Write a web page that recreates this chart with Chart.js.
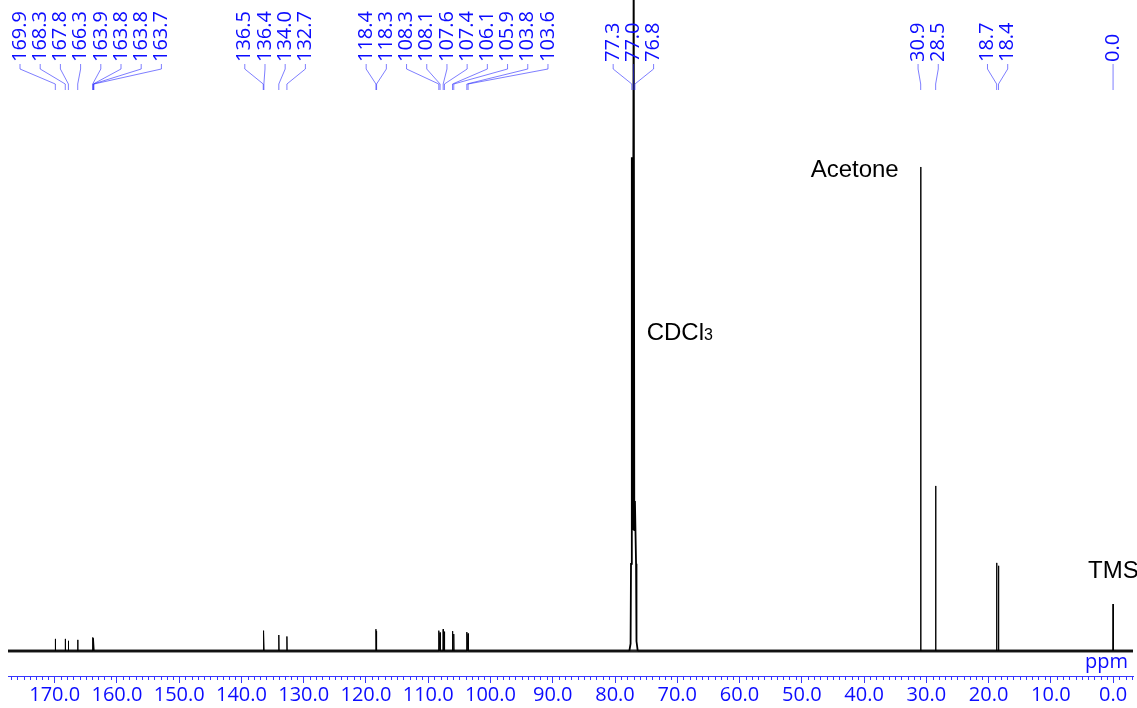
<!DOCTYPE html>
<html>
<head>
<meta charset="utf-8">
<title>13C NMR spectrum</title>
<script src="https://cdn.jsdelivr.net/npm/chart.js@4.4.0/dist/chart.umd.min.js"></script>
<style>
  html, body { margin: 0; padding: 0; background: #ffffff; }
  canvas { display: block; }
</style>
</head>
<body>
<canvas id="spectrum" width="1137" height="708"></canvas>
<script>
// Peak list (ppm) printed above the spectrum, one entry per picked line
const peakLabels = ['169.9', '168.3', '167.8', '166.3', '163.9', '163.8', '163.8', '163.7',
  '136.5', '136.4', '134.0', '132.7',
  '118.4', '118.3', '108.3', '108.1', '107.6', '107.4', '106.1', '105.9', '103.8', '103.6',
  '77.3', '77.0', '76.8',
  '30.9', '28.5', '18.7', '18.4', '0.0'];
const peakShifts = peakLabels.map(Number);
// Relative intensities (acetone CH3 line = 100)
const peakHeights = [2.5, 2.5, 2.1, 2.3, 2.8, 2.6, 2.6, 2.4,
  4.2, 3.8, 3.3, 3.0,
  4.5, 4.1, 4.2, 3.8, 4.5, 4.0, 4.1, 3.5, 3.9, 3.6,
  102, 150, 31,
  100, 34.1, 18.2, 17.6, 9.7];
// CDCl3 triplet: broader line, outline around and between its three tops
const solventLines = ['77.3', '77.0', '76.8'];
const solventOutlineShifts = [77.7, 77.5, 77.43, 77.15, 76.9, 76.62, 76.55, 76.35];
const solventOutlineHeights = [0, 1.5, 18, 25, 25, 18, 2, 0];
// Axis
const axisMin = -3.2;
const axisMax = 177.5;
const majorTicks = [0, 10, 20, 30, 40, 50, 60, 70, 80, 90, 100, 110, 120, 130, 140, 150, 160, 170];
// Solvent / reference annotations: text, anchor shift, intensity level
const noteTexts = ['Acetone', 'CDCl', 'TMS'];
const noteShifts = [30.9, 77.0, 0.0];
const noteLevels = [99.4, 65.7, 16.5];

const BLUE = '#0c0cff';
const AXIS_BLUE = '#3535ff';
const LEADER = 'rgba(40,40,255,0.6)';
const LABEL_FONT = '"Open Sans", "Noto Sans", sans-serif';
const NOTE_FONT = '"Liberation Sans", Arial, sans-serif';

// Build the trace: a narrow line for every picked peak, the solvent outline as traced
const spikeHalfWidth = 0.04;
const trace = [{ x: axisMax, y: 0 }, { x: axisMin, y: 0 }];
peakShifts.forEach((s, i) => {
  trace.push({ x: s, y: peakHeights[i] });
  if (!solventLines.includes(peakLabels[i])) {
    trace.push({ x: s + spikeHalfWidth, y: 0 });
    trace.push({ x: s - spikeHalfWidth, y: 0 });
  }
});
solventOutlineShifts.forEach((s, i) => trace.push({ x: s, y: solventOutlineHeights[i] }));
trace.sort((a, b) => b.x - a.x);

const baseline = [{ x: axisMax, y: 0 }, { x: axisMin, y: 0 }];
const solventRange = [solventOutlineShifts[solventOutlineShifts.length - 1], solventOutlineShifts[0]];

// Minor ticks every 1 ppm, blue "ppm" unit, peak labels with leader lines, annotations
const decorations = {
  id: 'decorations',
  afterDraw(chart) {
    const ctx = chart.ctx;
    const xs = chart.scales.x;
    const ys = chart.scales.y;
    const area = chart.chartArea;

    ctx.save();
    // minor ticks
    ctx.strokeStyle = AXIS_BLUE;
    ctx.lineWidth = 1;
    ctx.beginPath();
    for (let v = Math.ceil(axisMin); v <= Math.floor(axisMax); v++) {
      if (v % 10 === 0) continue;
      const x = Math.round(xs.getPixelForValue(v)) + 0.5;
      ctx.moveTo(x, area.bottom);
      ctx.lineTo(x, area.bottom + 4);
    }
    ctx.stroke();

    // unit
    ctx.fillStyle = BLUE;
    ctx.font = '20px ' + LABEL_FONT;
    ctx.textAlign = 'right';
    ctx.textBaseline = 'middle';
    ctx.fillText('ppm', area.right - 5, 662);

    // peak labels: group neighbouring lines, centre each group, push right when crowded
    const sp = 20.2;
    const items = peakShifts.map((s, i) => ({ i, px: xs.getPixelForValue(s) }))
      .sort((a, b) => a.px - b.px);
    const groups = [];
    items.forEach(it => {
      const g = groups[groups.length - 1];
      if (g && it.px - g[g.length - 1].px < sp) g.push(it); else groups.push([it]);
    });
    let prevEnd = -Infinity;
    groups.forEach(g => {
      const mid = (g[0].px + g[g.length - 1].px) / 2;
      let start = mid - (g.length - 1) * sp / 2;
      start = Math.max(start, area.left + 12, prevEnd + sp);
      g.forEach((it, k) => { it.lx = start + k * sp; });
      prevEnd = start + (g.length - 1) * sp;
    });

    ctx.strokeStyle = LEADER;
    ctx.lineWidth = 1;
    items.forEach(it => {
      ctx.beginPath();
      ctx.moveTo(it.lx, 64);
      ctx.lineTo(it.lx, 69);
      ctx.lineTo(it.px, 84);
      ctx.lineTo(it.px, 90);
      ctx.stroke();
    });
    ctx.fillStyle = BLUE;
    ctx.font = '20px ' + LABEL_FONT;
    ctx.textAlign = 'left';
    ctx.textBaseline = 'middle';
    items.forEach(it => {
      ctx.save();
      ctx.translate(it.lx, 62);
      ctx.rotate(-Math.PI / 2);
      ctx.fillText(peakLabels[it.i], 0, 0);
      ctx.restore();
    });

    // annotations
    ctx.fillStyle = '#000000';
    ctx.textBaseline = 'middle';
    ctx.font = '24px ' + NOTE_FONT;
    // Acetone: to the left of its line
    ctx.textAlign = 'right';
    ctx.fillText(noteTexts[0], xs.getPixelForValue(noteShifts[0]) - 22, ys.getPixelForValue(noteLevels[0]));
    // CDCl3 with subscript 3: right of the solvent line
    ctx.textAlign = 'left';
    const cx = xs.getPixelForValue(noteShifts[1]) + 13;
    const cy = ys.getPixelForValue(noteLevels[1]);
    ctx.fillText(noteTexts[1], cx, cy);
    const w = ctx.measureText(noteTexts[1]).width;
    ctx.font = '16px ' + NOTE_FONT;
    ctx.fillText('3', cx + w, cy + 3);
    // TMS
    ctx.font = '24px ' + NOTE_FONT;
    ctx.fillText(noteTexts[2], xs.getPixelForValue(noteShifts[2]) - 25, ys.getPixelForValue(noteLevels[2]));
    ctx.restore();
  }
};

new Chart(document.getElementById('spectrum'), {
  type: 'scatter',
  data: {
    datasets: [
      {
        label: 'baseline',
        data: baseline,
        showLine: true,
        borderColor: '#262626',
        borderWidth: 3,
        pointRadius: 0,
        order: 2
      },
      {
        label: '13C',
        data: trace,
        showLine: true,
        borderColor: '#000000',
        borderWidth: 1,
        pointRadius: 0,
        tension: 0,
        order: 1,
        segment: {
          borderWidth: c => (c.p0.parsed.x <= solventRange[1] && c.p0.parsed.x > solventRange[0]) ? 1.8 : 1
        }
      }
    ]
  },
  options: {
    responsive: false,
    animation: false,
    events: [],
    layout: { padding: { left: 8, right: 4, top: 0, bottom: 0 } },
    plugins: { legend: { display: false }, tooltip: { enabled: false } },
    scales: {
      x: {
        type: 'linear',
        reverse: true,
        min: axisMin,
        max: axisMax,
        afterFit(scale) { scale.height = 32; },
        border: { display: true, color: AXIS_BLUE, width: 1 },
        grid: {
          drawOnChartArea: false,
          drawTicks: true,
          tickLength: 7,
          color: c => (c.tick && majorTicks.includes(c.tick.value)) ? AXIS_BLUE : 'rgba(0,0,0,0)'
        },
        ticks: {
          stepSize: 1,
          autoSkip: false,
          maxRotation: 0,
          padding: 0,
          color: BLUE,
          font: { family: LABEL_FONT, size: 20 },
          callback: v => majorTicks.includes(v) ? v.toFixed(1) : ''
        }
      },
      y: {
        display: false,
        min: -5.17,
        max: 134.5
      }
    }
  },
  plugins: [decorations]
});
</script>
</body>
</html>
